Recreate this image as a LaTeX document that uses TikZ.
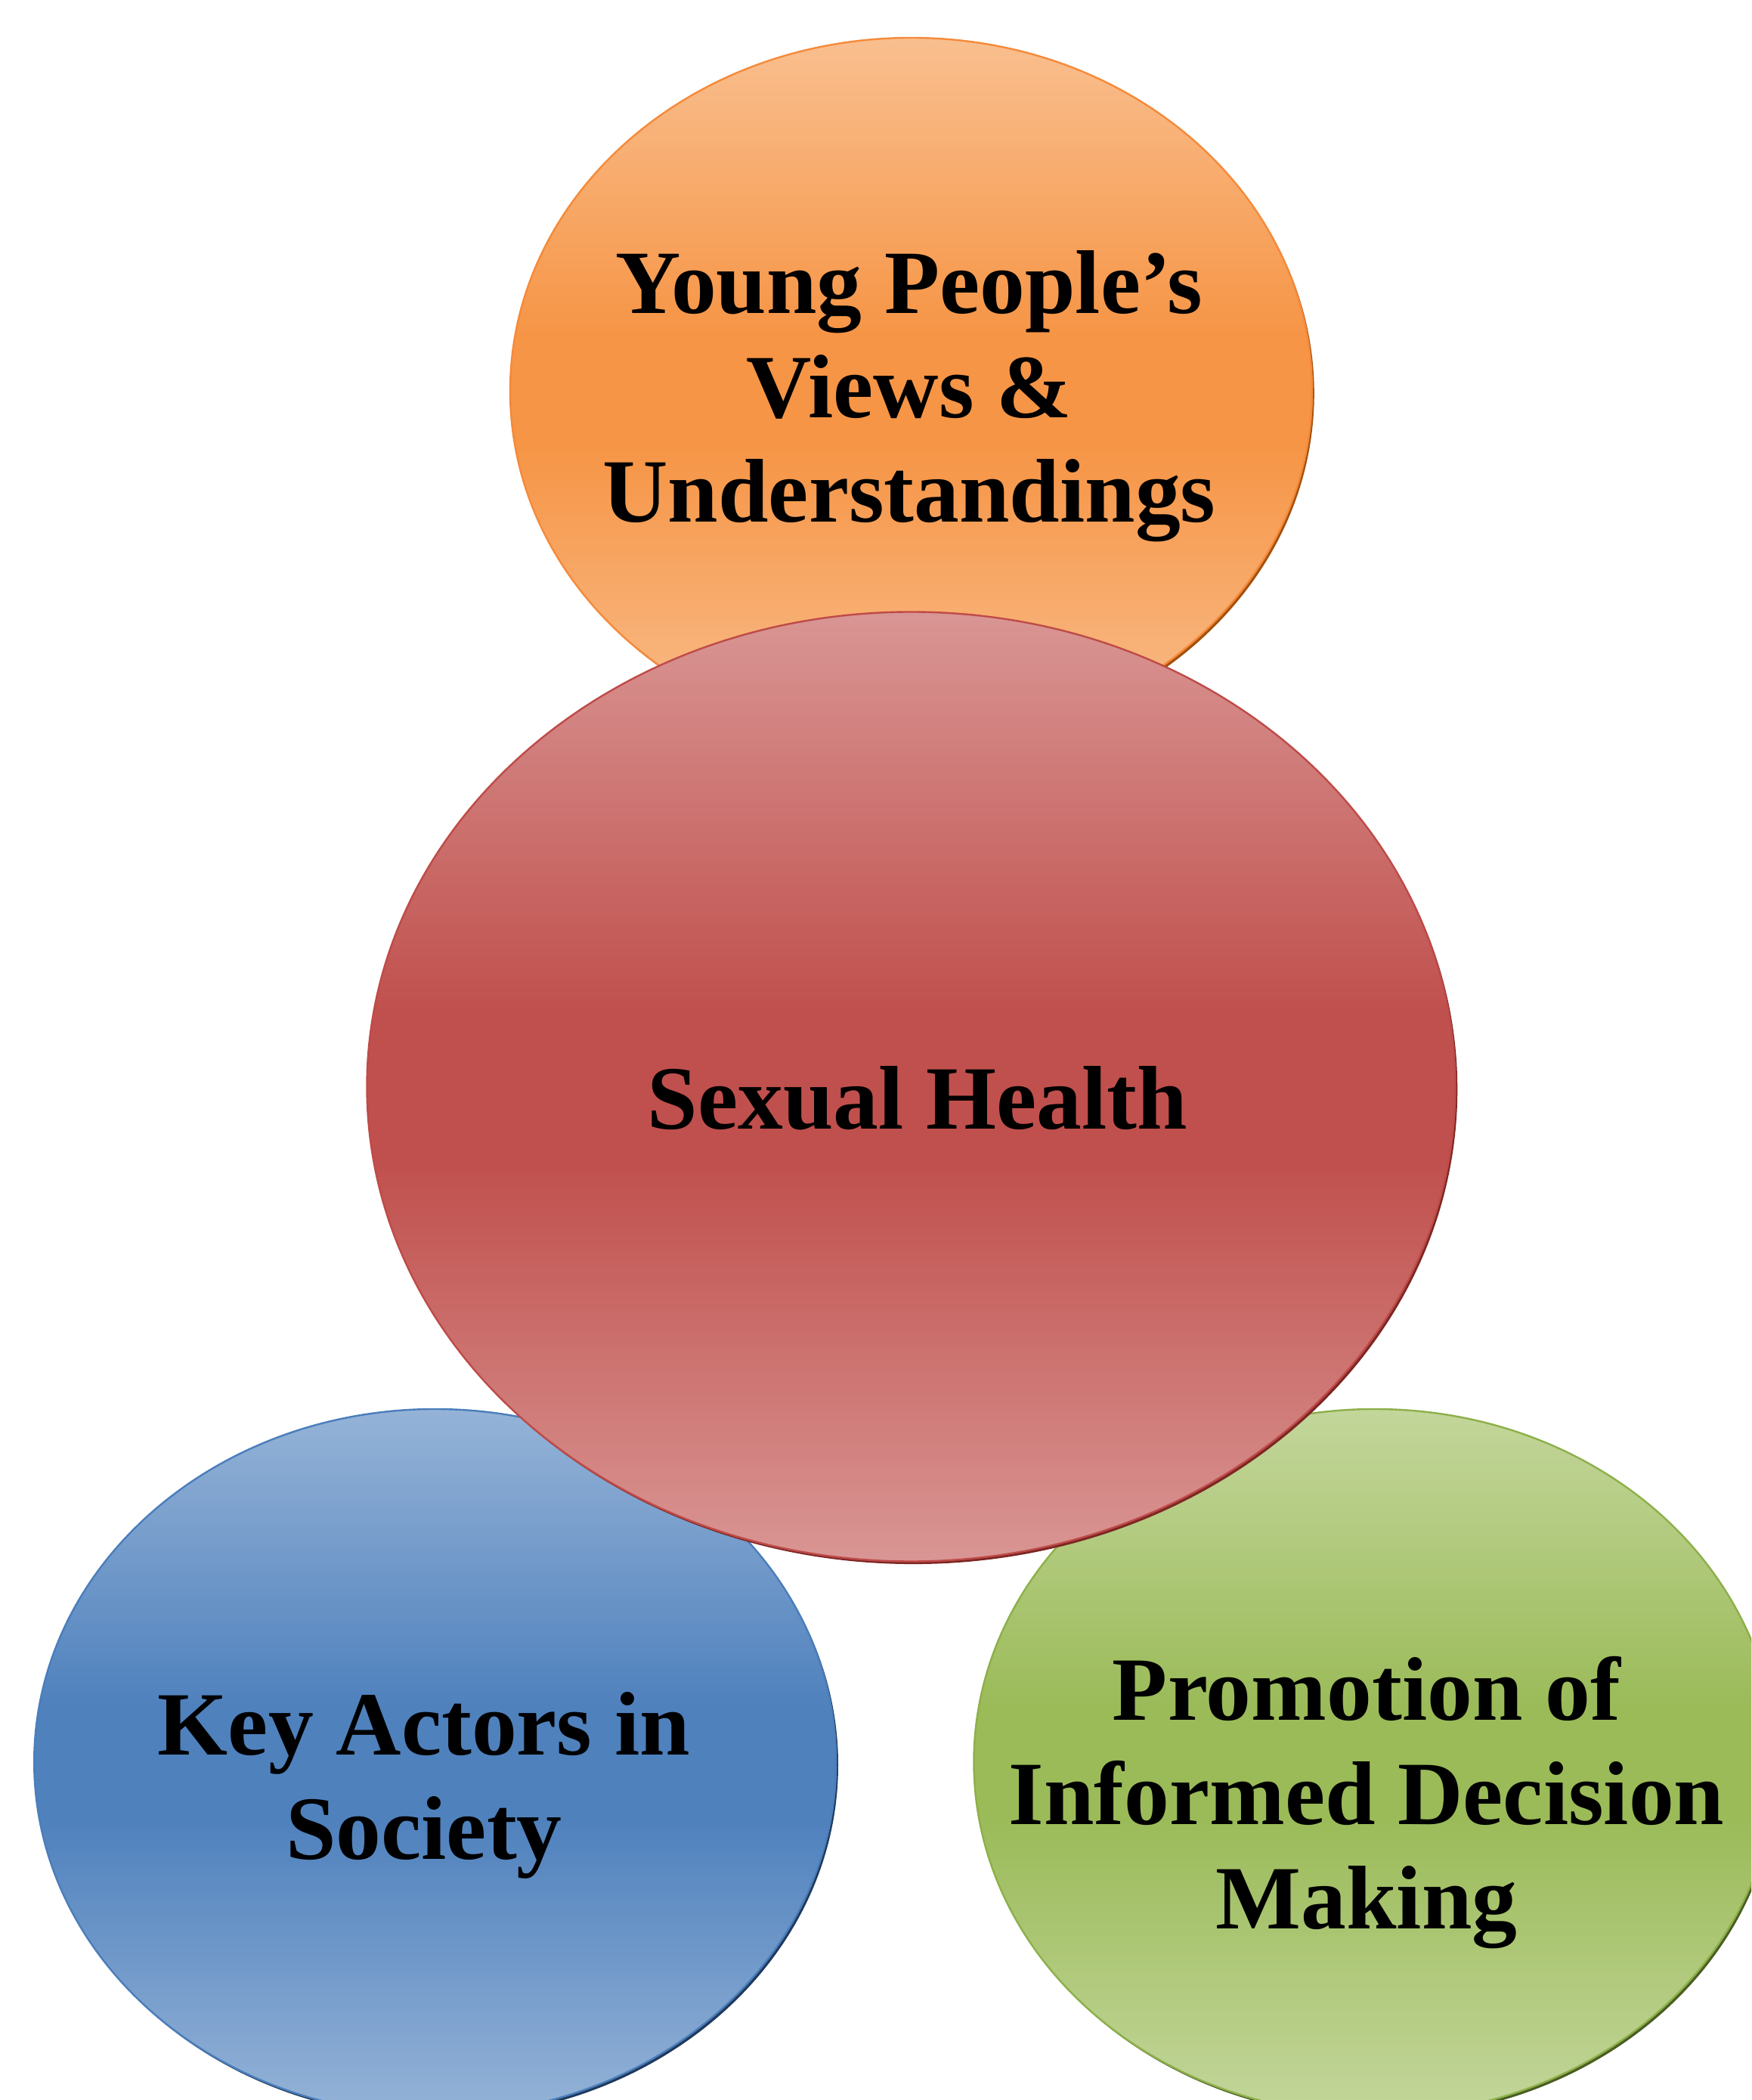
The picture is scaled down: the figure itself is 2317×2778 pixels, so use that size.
\documentclass[tikz,border=0pt]{standalone}
\usepackage{fontspec}
\setmainfont{Liberation Serif}
\usetikzlibrary{shapes.geometric,shadows}
\definecolor{orLight}{HTML}{F9BF8F}
\definecolor{orDark}{HTML}{F69546}
\definecolor{orLine}{HTML}{F58A3A}
\definecolor{orShadow}{HTML}{A4510C}
\definecolor{rdLight}{HTML}{D99694}
\definecolor{rdDark}{HTML}{C0504D}
\definecolor{rdLine}{HTML}{BE4B48}
\definecolor{rdShadow}{HTML}{7E2624}
\definecolor{blLight}{HTML}{95B3D7}
\definecolor{blDark}{HTML}{4F81BD}
\definecolor{blLine}{HTML}{4A7EBB}
\definecolor{blShadow}{HTML}{1F3A5E}
\definecolor{gnLight}{HTML}{C3D69B}
\definecolor{gnDark}{HTML}{9BBB59}
\definecolor{gnLine}{HTML}{8DB04A}
\definecolor{gnShadow}{HTML}{4A5E22}
\pgfdeclareverticalshading{orsh}{100bp}{color(0bp)=(orLight); color(25bp)=(orLight); color(46bp)=(orDark); color(54bp)=(orDark); color(75bp)=(orLight); color(100bp)=(orLight)}
\pgfdeclareverticalshading{rdsh}{100bp}{color(0bp)=(rdLight); color(25bp)=(rdLight); color(46bp)=(rdDark); color(54bp)=(rdDark); color(75bp)=(rdLight); color(100bp)=(rdLight)}
\pgfdeclareverticalshading{blsh}{100bp}{color(0bp)=(blLight); color(25bp)=(blLight); color(46bp)=(blDark); color(54bp)=(blDark); color(75bp)=(blLight); color(100bp)=(blLight)}
\pgfdeclareverticalshading{gnsh}{100bp}{color(0bp)=(gnLight); color(25bp)=(gnLight); color(46bp)=(gnDark); color(54bp)=(gnDark); color(75bp)=(gnLight); color(100bp)=(gnLight)}
\tikzset{
  bubble/.style={ellipse, inner sep=0pt, outer sep=0pt, line width=0.6pt},
  smallbub/.style={bubble, minimum width=265.25pt, minimum height=233.5pt},
  bigbub/.style={bubble, minimum width=360pt, minimum height=314pt},
  bubshadow/.style={drop shadow={opacity=1, fill=#1, shadow xshift=0.7pt, shadow yshift=-0.9pt}},
  orangebub/.style={smallbub, shading=orsh, shade, draw=orLine, bubshadow=orShadow},
  redbub/.style={bigbub, shading=rdsh, shade, draw=rdLine, bubshadow=rdShadow},
  bluebub/.style={smallbub, shading=blsh, shade, draw=blLine, bubshadow=blShadow},
  greenbub/.style={smallbub, shading=gnsh, shade, draw=gnLine, bubshadow=gnShadow},
  lbl/.style={font=\fontsize{29.9pt}{34.5pt}\selectfont\bfseries, align=center, inner sep=0pt, text=black}
}
\begin{document}
\begin{tikzpicture}[x=0.25pt, y=0.25pt]
  \useasboundingbox (0,0) rectangle (2317,2778);
  \clip (0,0) rectangle (2317,2778);
  \fill[white] (0,0) rectangle (2317,2778);
  % bubbles
  \node[orangebub] (yp) at (1205.5,2261) {};
  \node[bluebub] (ka) at (575.7,447) {};
  \node[greenbub] (pi) at (1819,447) {};
  \node[redbub] (sh) at (1205.5,1340.5) {};
  % labels
  \node[lbl] (ypt) at (1203,2254) {Young People’s\\Views \&\\Understandings};
  \node[lbl, anchor=base] (sht) at (1214,1284) {Sexual Health};
  \node[lbl] (kat) at (561,416.5) {Key Actors in\\Society};
  \node[lbl] (pit) at (1808,393) {Promotion of\\Informed Decision\\Making};
\end{tikzpicture}
\end{document}
